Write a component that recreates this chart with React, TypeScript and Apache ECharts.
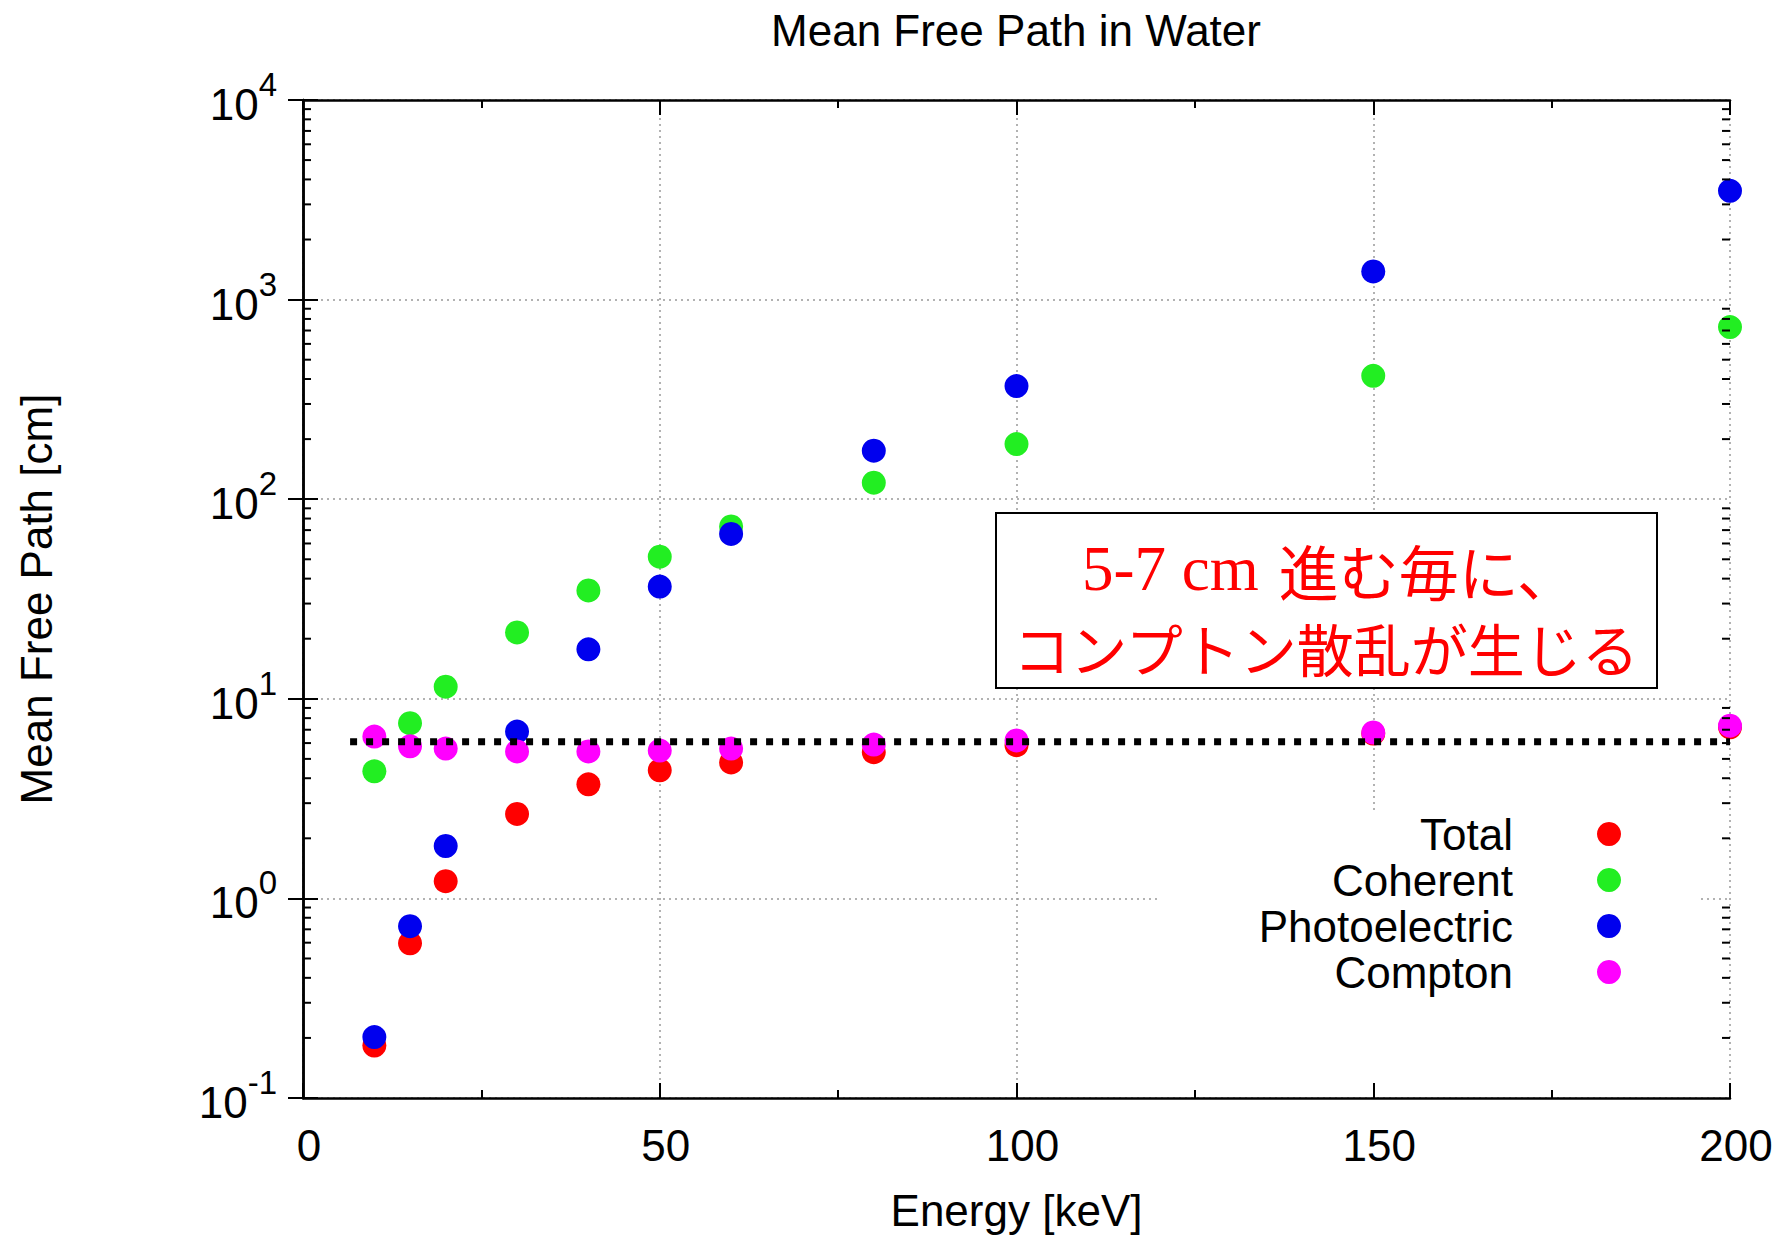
import React, { useEffect, useRef } from "react";
import * as echarts from "echarts";

// ---- data ----
const ENERGY_KEV = [10, 15, 20, 30, 40, 50, 60, 80, 100, 150, 200];
const TOTAL = [0.183, 0.596, 1.22, 2.65, 3.73, 4.38, 4.8, 5.4, 5.86, 6.7, 7.2];
const COHERENT = [4.33, 7.55, 11.5, 21.5, 34.9, 51.5, 73, 121, 189, 415, 728];
const PHOTOELECTRIC = [0.202, 0.726, 1.83, 6.85, 17.7, 36.5, 67, 175, 369, 1384, 3507];
const COMPTON = [6.47, 5.78, 5.63, 5.45, 5.45, 5.5, 5.63, 5.9, 6.19, 6.78, 7.33];

const SERIES_NAMES = ["Total", "Coherent", "Photoelectric", "Compton"];
const SERIES_COLORS = ["#ff0000", "#22ee22", "#0000ee", "#ff00ff"];

const REF_LINE_X = [6.6, 200];
const REF_LINE_Y = 6.1;

const X_MIN = 0;
const X_MAX = 200;
const X_INTERVAL = 50;
const Y_MIN = 0.1;
const Y_MAX = 10000;

// minor tick positions of the log axis (2..9 within each decade)
const LOG_DECADES = [0.1, 1, 10, 100, 1000];
const LOG_MINOR_MULT = [2, 3, 4, 5, 6, 7, 8, 9];

const TITLE = "Mean Free Path in Water";
const X_NAME = "Energy [keV]";
const Y_NAME = "Mean Free Path [cm]";
const NOTE_LINE1_A = "5-7 cm";
const NOTE_LINE1_B = "進む毎に、";
const NOTE_LINE2 = "コンプトン散乱が生じる";

const FONT = "Liberation Sans";

export default function App() {
  const ref = useRef<HTMLDivElement>(null);

  useEffect(() => {
    if (!ref.current) return;
    const chart = echarts.init(ref.current, undefined, { renderer: "svg" });

    const minorTicks: number[][] = [];
    LOG_DECADES.forEach((d) => LOG_MINOR_MULT.forEach((m) => minorTicks.push([X_MIN, d * m])));

    const seriesData = [TOTAL, COHERENT, PHOTOELECTRIC, COMPTON];

    const axisLineStyle = { color: "#000", width: 2.5 };
    const tickStyle = { color: "#000", width: 2 };
    const splitStyle = { color: "#999", width: 1.5, type: [2, 4] as any };

    const option: any = {
      animation: false,
      backgroundColor: "#fff",
      textStyle: { fontFamily: FONT, color: "#000" },
      title: {
        text: TITLE,
        left: 1016,
        top: 8,
        padding: 0,
        textAlign: "center",
        textStyle: { fontFamily: FONT, fontSize: 44, fontWeight: "normal", color: "#000" },
      },
      grid: { left: 303, right: 50, top: 100, bottom: 138, containLabel: false },
      legend: {
        data: SERIES_NAMES,
        orient: "vertical",
        align: "right",
        right: 80,
        top: 811,
        padding: [0, 79, 87, 98],
        itemGap: 0,
        itemWidth: 24,
        itemHeight: 24,
        icon: "circle",
        selectedMode: false,
        backgroundColor: "#fff",
        textStyle: {
          fontFamily: FONT,
          fontSize: 44,
          lineHeight: 46,
          color: "#000",
          padding: [0, 79, 0, 0],
        },
      },
      xAxis: [
        {
          type: "value",
          min: X_MIN,
          max: X_MAX,
          interval: X_INTERVAL,
          position: "bottom",
          name: X_NAME,
          nameLocation: "middle",
          nameGap: 90,
          nameTextStyle: { fontFamily: FONT, fontSize: 44, color: "#000" },
          axisLine: { show: true, lineStyle: axisLineStyle },
          axisTick: { show: true, inside: true, length: 15, lineStyle: tickStyle },
          minorTick: { show: true, splitNumber: 2, length: 8, lineStyle: tickStyle },
          axisLabel: {
            show: true,
            margin: 25,
            fontFamily: FONT,
            fontSize: 44,
            color: "#000",
            padding: [0, 0, 0, 12],
          },
          splitLine: { show: true, lineStyle: splitStyle },
        },
        {
          type: "value",
          min: X_MIN,
          max: X_MAX,
          interval: X_INTERVAL,
          position: "top",
          axisLine: { show: true, lineStyle: axisLineStyle },
          axisTick: { show: true, inside: true, length: 15, lineStyle: tickStyle },
          minorTick: { show: true, splitNumber: 2, length: 8, lineStyle: tickStyle },
          axisLabel: { show: false },
          splitLine: { show: false },
        },
      ],
      yAxis: [
        {
          type: "log",
          logBase: 10,
          min: Y_MIN,
          max: Y_MAX,
          splitNumber: 5,
          position: "left",
          name: Y_NAME,
          nameLocation: "middle",
          nameGap: 245,
          nameTextStyle: { fontFamily: FONT, fontSize: 44, color: "#000" },
          axisLine: { show: true, lineStyle: axisLineStyle },
          axisTick: { show: true, inside: true, length: 15, lineStyle: tickStyle },
          axisLabel: {
            show: true,
            margin: 26,
            padding: [9, 0, 0, 0],
            formatter: (v: number) => `{b|10}{s|${Math.round(Math.log10(v))}}`,
            rich: {
              b: { fontFamily: FONT, fontSize: 44, lineHeight: 44, color: "#000" },
              s: {
                fontFamily: FONT,
                fontSize: 33,
                lineHeight: 33,
                color: "#000",
                padding: [0, 0, 40, 0],
              },
            },
          },
          splitLine: { show: true, lineStyle: splitStyle },
        },
        {
          type: "log",
          logBase: 10,
          min: Y_MIN,
          max: Y_MAX,
          splitNumber: 5,
          position: "right",
          axisLine: { show: true, lineStyle: axisLineStyle },
          axisTick: { show: true, inside: true, length: 15, lineStyle: tickStyle },
          axisLabel: { show: false },
          splitLine: { show: false },
        },
      ],
      series: [
        {
          type: "custom",
          name: "logMinorTicks",
          xAxisIndex: 0,
          yAxisIndex: 0,
          silent: true,
          clip: false,
          z: 3,
          data: minorTicks,
          renderItem: (params: any, api: any) => {
            const v = api.value(1);
            const l = api.coord([X_MIN, v]);
            const r = api.coord([X_MAX, v]);
            return {
              type: "group",
              children: [
                {
                  type: "line",
                  shape: { x1: l[0], y1: l[1], x2: l[0] + 8, y2: l[1] },
                  style: { stroke: "#000", lineWidth: 2 },
                },
                {
                  type: "line",
                  shape: { x1: r[0], y1: r[1], x2: r[0] - 8, y2: r[1] },
                  style: { stroke: "#000", lineWidth: 2 },
                },
              ],
            };
          },
        },
        ...SERIES_NAMES.map((name, i) => ({
          type: "scatter",
          name,
          xAxisIndex: 0,
          yAxisIndex: 0,
          symbol: "circle",
          symbolSize: 24,
          itemStyle: { color: SERIES_COLORS[i], opacity: 1 },
          data: ENERGY_KEV.map((x, j) => [x, seriesData[i][j]]),
          z: 2 + i * 0.01,
        })),
        {
          type: "line",
          name: "ref",
          xAxisIndex: 0,
          yAxisIndex: 0,
          symbol: "none",
          silent: true,
          z: 5,
          data: REF_LINE_X.map((x) => [x, REF_LINE_Y]),
          lineStyle: { color: "#000", width: 7, type: [7, 9], cap: "butt" },
        },
      ],
      graphic: [
        {
          type: "rect",
          z: 100,
          shape: { x: 996, y: 513, width: 661, height: 175 },
          style: { fill: "#fff", stroke: "#000", lineWidth: 2 },
        },
        {
          type: "text",
          z: 101,
          x: 1082,
          y: 569,
          style: {
            text: `{a|${NOTE_LINE1_A}}{b|${NOTE_LINE1_B}}`,
            align: "left",
            verticalAlign: "middle",
            rich: {
              a: { fontFamily: "Liberation Serif", fontSize: 63, fill: "#ff0000", color: "#ff0000" } as any,
              b: {
                fontFamily: "Noto Sans CJK JP",
                fontSize: 60,
                fill: "#ff0000",
                color: "#ff0000",
                padding: [0, 0, 0, 20],
              } as any,
            },
          },
        },
        {
          type: "text",
          z: 101,
          x: 1326,
          y: 647,
          style: {
            text: NOTE_LINE2,
            align: "center",
            verticalAlign: "middle",
            fill: "#ff0000",
            font: '57px "Noto Sans CJK JP"',
          },
        },
      ],
    };

    chart.setOption(option);
    return () => chart.dispose();
  }, []);

  return (
    <div
      ref={ref}
      style={{ position: "fixed", left: 0, top: 0, width: 1780, height: 1237, background: "#fff" }}
    />
  );
}
